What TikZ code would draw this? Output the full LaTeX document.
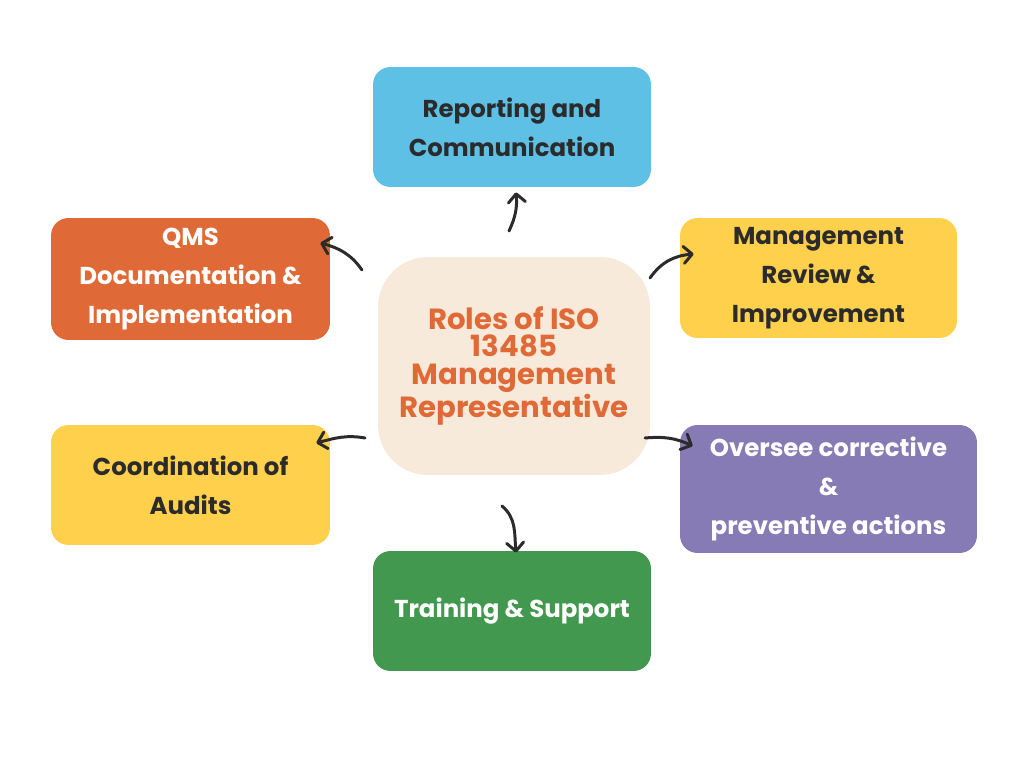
\documentclass[tikz,border=0pt]{standalone}
\usepackage{fontspec}
\setmainfont{Poppins}
\usepackage{tikz}
\usetikzlibrary{arrows.meta,positioning,calc}
\definecolor{skyblue}{RGB}{95,192,230}
\definecolor{rustorange}{RGB}{224,106,55}
\definecolor{sunyellow}{RGB}{255,208,76}
\definecolor{creampeach}{RGB}{248,234,218}
\definecolor{softpurple}{RGB}{135,123,181}
\definecolor{leafgreen}{RGB}{67,152,79}
\definecolor{inkgray}{RGB}{43,43,43}

\begin{document}
\begin{tikzpicture}[x=0.02cm, y=0.02cm,
    role/.style={rectangle, rounded corners=0.35cm, minimum height=2.4cm, minimum width=5.56cm, text centered, align=center, inner sep=0pt, font=\fontsize{13.9}{22.1}\selectfont\bfseries},
    hub/.style={rectangle, rounded corners=1cm, minimum height=4.36cm, minimum width=5.44cm, text centered, align=center, inner sep=0pt, fill=creampeach, text=rustorange, font=\fontsize{16.6}{15.4}\selectfont\bfseries},
    link/.style={draw=inkgray, line width=1.7pt, line cap=round, -{Straight Barb[length=1.7mm, width=3.4mm, round]}}]

\useasboundingbox (0,0) rectangle (1024,768);

\node[hub] (hub) at (514,402) {Roles of ISO\\13485\\Management\\Representative};

\node[role, fill=skyblue, text=inkgray] (report) at (512,641) {Reporting and\\Communication};
\node[role, fill=rustorange, text=white, minimum width=5.58cm, minimum height=2.44cm] (qms) at (190.5,489) {QMS\\Documentation \&\\Implementation};
\node[role, fill=sunyellow, text=inkgray, minimum width=5.54cm] (review) at (818.5,490) {Management\\Review \&\\Improvement};
\node[role, fill=sunyellow, text=inkgray, minimum width=5.58cm] (audits) at (190.5,283) {Coordination of\\Audits};
\node[role, fill=softpurple, text=white, minimum width=5.94cm, minimum height=2.56cm] (capa) at (828.5,279) {Oversee corrective\\\&\\preventive actions};
\node[role, fill=leafgreen, text=white] (training) at (512,157) {Training \& Support};

\coordinate (hubN) at (509,537);
\coordinate (hubNW) at (362,498);
\coordinate (hubNE) at (650,490);
\coordinate (hubSW) at (365,330);
\coordinate (hubSE) at (645,330);
\coordinate (hubS) at (502,262);

\draw[link] (hubN) to[out=65, in=-85] ($(report.south)+(4,-5)$);
\draw[link] (hubNW) to[out=125, in=-15] ($(qms.east)+(-10,36)$);
\draw[link] (hubNE) to[out=55, in=185] ($(review.west)+(14,24)$);
\draw[link] (hubSW) to[out=170, in=15] ($(audits.east)+(-14,42)$);
\draw[link] (hubSE) to[out=5, in=155] ($(capa.west)+(13,43)$);
\draw[link] (hubS) to[out=-40, in=95] ($(training.north)+(4,-2)$);

\end{tikzpicture}
\end{document}
